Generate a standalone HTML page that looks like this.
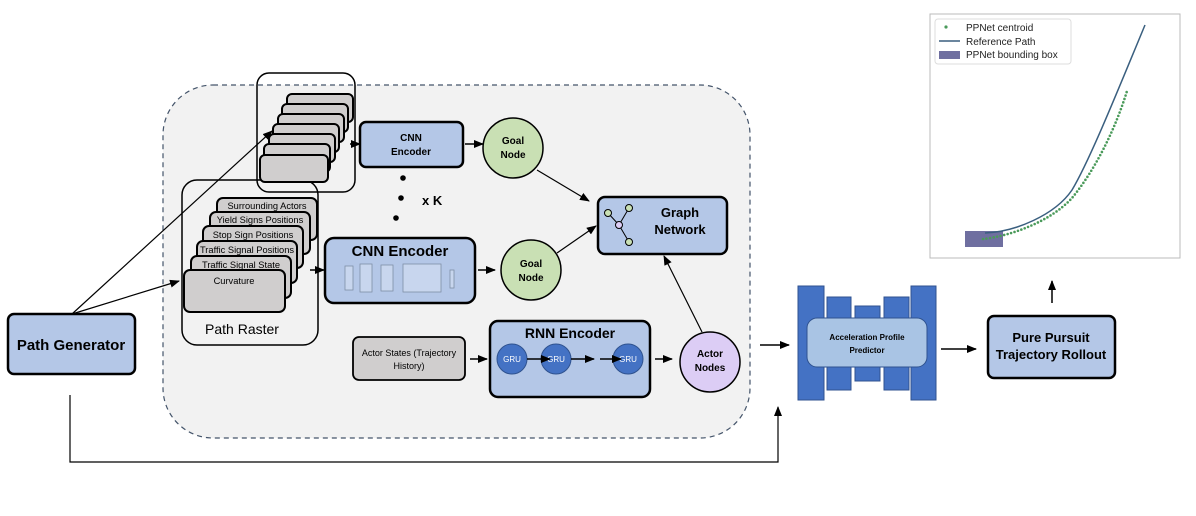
<!DOCTYPE html>
<html><head><meta charset="utf-8"><style>
html,body{margin:0;padding:0;background:#fff;}
svg{display:block;font-family:"Liberation Sans",sans-serif;}
.b{font-weight:bold;}
</style></head><body>
<svg width="1196" height="516" viewBox="0 0 1196 516" xmlns="http://www.w3.org/2000/svg">
<defs>
<marker id="ar" markerWidth="10" markerHeight="8" refX="9" refY="4" orient="auto" markerUnits="userSpaceOnUse"><path d="M0,0 L10,4 L0,8 z" fill="#000"/></marker>
</defs>
<rect x="163" y="85" width="587" height="353" rx="50" fill="#f2f2f2" stroke="#44546a" stroke-width="1.2" stroke-dasharray="5,4"/>

<rect x="8" y="314" width="127" height="60" rx="6" fill="#b4c7e7" stroke="#000" stroke-width="2.5"/>
<text x="71" y="350" text-anchor="middle" font-size="15" class="b">Path Generator</text>

<polyline points="70,395 70,462 778,462 778,407" fill="none" stroke="#000" stroke-width="1.2" marker-end="url(#ar)"/>

<rect x="182" y="180" width="136" height="165" rx="15" fill="none" stroke="#000" stroke-width="1.5"/>
<g stroke="#000" stroke-width="2" fill="#d0cece" font-size="9.3" text-anchor="middle">
<rect x="217" y="198" width="100" height="42" rx="6"/><text x="267" y="209" stroke="none" fill="#000">Surrounding Actors</text>
<rect x="210" y="212" width="100" height="42" rx="6"/><text x="260" y="223" stroke="none" fill="#000">Yield Signs Positions</text>
<rect x="203" y="226" width="100" height="42" rx="6"/><text x="253" y="238" stroke="none" fill="#000">Stop Sign Positions</text>
<rect x="197" y="241" width="100" height="42" rx="6"/><text x="247" y="253" stroke="none" fill="#000">Traffic Signal Positions</text>
<rect x="191" y="256" width="100" height="42" rx="6"/><text x="241" y="268" stroke="none" fill="#000">Traffic Signal State</text>
<rect x="184" y="270" width="101" height="42" rx="6"/><text x="234" y="284" stroke="none" fill="#000">Curvature</text>
</g>
<text x="242" y="334" text-anchor="middle" font-size="14">Path Raster</text>

<rect x="257" y="73" width="98" height="119" rx="12" fill="none" stroke="#000" stroke-width="1.5"/>
<g stroke="#000" stroke-width="2" fill="#d0cece">
<rect x="287" y="94" width="66" height="28" rx="5"/>
<rect x="282" y="104" width="66" height="28" rx="5"/>
<rect x="278" y="114" width="66" height="28" rx="5"/>
<rect x="273" y="124" width="66" height="28" rx="5"/>
<rect x="269" y="134" width="66" height="28" rx="5"/>
<rect x="264" y="144" width="66" height="28" rx="5"/>
<rect x="260" y="155" width="68" height="27" rx="5"/>
</g>

<line x1="72" y1="314" x2="272" y2="131" stroke="#000" stroke-width="1.2" marker-end="url(#ar)"/>
<line x1="72" y1="314" x2="179" y2="281" stroke="#000" stroke-width="1.2" marker-end="url(#ar)"/>

<line x1="350" y1="144" x2="360" y2="144" stroke="#000" stroke-width="1.5" marker-end="url(#ar)"/>
<rect x="360" y="122" width="103" height="45" rx="6" fill="#b4c7e7" stroke="#000" stroke-width="2.5"/>
<text x="411" y="141" text-anchor="middle" font-size="10" class="b">CNN</text>
<text x="411" y="155" text-anchor="middle" font-size="10" class="b">Encoder</text>
<line x1="465" y1="144" x2="483" y2="144" stroke="#000" stroke-width="1.5" marker-end="url(#ar)"/>
<circle cx="513" cy="148" r="30" fill="#c9e0b4" stroke="#000" stroke-width="1.5"/>
<text x="513" y="144" text-anchor="middle" font-size="10" class="b">Goal</text>
<text x="513" y="158" text-anchor="middle" font-size="10" class="b">Node</text>

<circle cx="403" cy="178" r="2.8"/><circle cx="401" cy="198" r="2.8"/><circle cx="396" cy="218" r="2.8"/>
<text x="422" y="205" font-size="13" class="b">x K</text>

<line x1="310" y1="270" x2="324" y2="270" stroke="#000" stroke-width="1.5" marker-end="url(#ar)"/>
<rect x="325" y="238" width="150" height="65" rx="9" fill="#b4c7e7" stroke="#000" stroke-width="2.5"/>
<text x="400" y="256" text-anchor="middle" font-size="15" class="b">CNN Encoder</text>
<g fill="#c8d6ee" stroke="#7f8fa6" stroke-width="0.8">
<rect x="345" y="266" width="8" height="24"/>
<rect x="360" y="264" width="12" height="28"/>
<rect x="381" y="265" width="12" height="26"/>
<rect x="403" y="264" width="38" height="28"/>
<rect x="450" y="270" width="4" height="18"/>
</g>
<line x1="478" y1="270" x2="495" y2="270" stroke="#000" stroke-width="1.5" marker-end="url(#ar)"/>
<circle cx="531" cy="270" r="30" fill="#c9e0b4" stroke="#000" stroke-width="1.5"/>
<text x="531" y="267" text-anchor="middle" font-size="10" class="b">Goal</text>
<text x="531" y="281" text-anchor="middle" font-size="10" class="b">Node</text>

<line x1="537" y1="170" x2="589" y2="201" stroke="#000" stroke-width="1.2" marker-end="url(#ar)"/>
<line x1="557" y1="253" x2="596" y2="226" stroke="#000" stroke-width="1.2" marker-end="url(#ar)"/>
<line x1="702" y1="332" x2="664" y2="256" stroke="#000" stroke-width="1.2" marker-end="url(#ar)"/>
<rect x="598" y="197" width="129" height="57" rx="7" fill="#b4c7e7" stroke="#000" stroke-width="2.5"/>
<g stroke="#000" stroke-width="1">
<line x1="608" y1="213" x2="619" y2="225"/><line x1="629" y1="208" x2="619" y2="225"/><line x1="619" y1="225" x2="629" y2="242"/>
<circle cx="608" cy="213" r="3.5" fill="#c9e0b4"/><circle cx="629" cy="208" r="3.5" fill="#c9e0b4"/>
<circle cx="619" cy="225" r="3.5" fill="#dccdf5"/><circle cx="629" cy="242" r="3.5" fill="#c9e0b4"/>
</g>
<text x="680" y="217" text-anchor="middle" font-size="13" class="b">Graph</text>
<text x="680" y="234" text-anchor="middle" font-size="13" class="b">Network</text>

<rect x="353" y="337" width="112" height="43" rx="6" fill="#d0cece" stroke="#000" stroke-width="1.8"/>
<text x="409" y="356" text-anchor="middle" font-size="9">Actor States (Trajectory</text>
<text x="409" y="369" text-anchor="middle" font-size="9">History)</text>
<line x1="470" y1="359" x2="487" y2="359" stroke="#000" stroke-width="1.5" marker-end="url(#ar)"/>
<rect x="490" y="321" width="160" height="76" rx="8" fill="#b4c7e7" stroke="#000" stroke-width="2.5"/>
<text x="570" y="338" text-anchor="middle" font-size="14" class="b">RNN Encoder</text>
<g fill="#4472c4" stroke="#2f528f" stroke-width="1">
<circle cx="512" cy="359" r="15"/><circle cx="556" cy="359" r="15"/><circle cx="628" cy="359" r="15"/>
</g>
<g fill="#fff" font-size="8" text-anchor="middle"><text x="512" y="362">GRU</text><text x="556" y="362">GRU</text><text x="628" y="362">GRU</text></g>
<line x1="527" y1="359" x2="550" y2="359" stroke="#000" stroke-width="1.5" marker-end="url(#ar)"/>
<line x1="571" y1="359" x2="594" y2="359" stroke="#000" stroke-width="1.5" marker-end="url(#ar)"/>
<line x1="600" y1="359" x2="621" y2="359" stroke="#000" stroke-width="1.5" marker-end="url(#ar)"/>
<line x1="655" y1="359" x2="672" y2="359" stroke="#000" stroke-width="1.5" marker-end="url(#ar)"/>
<circle cx="710" cy="362" r="30" fill="#dccdf5" stroke="#000" stroke-width="1.5"/>
<text x="710" y="357" text-anchor="middle" font-size="10" class="b">Actor</text>
<text x="710" y="371" text-anchor="middle" font-size="10" class="b">Nodes</text>

<line x1="760" y1="345" x2="789" y2="345" stroke="#000" stroke-width="1.5" marker-end="url(#ar)"/>
<g fill="#4472c4" stroke="#2f528f" stroke-width="1">
<rect x="798" y="286" width="26" height="114"/>
<rect x="827" y="297" width="24" height="93"/>
<rect x="855" y="306" width="25" height="75"/>
<rect x="884" y="297" width="25" height="93"/>
<rect x="911" y="286" width="25" height="114"/>
</g>
<rect x="807" y="318" width="120" height="49" rx="10" fill="#a9c4e4" stroke="#2f528f" stroke-width="1"/>
<text x="867" y="340" text-anchor="middle" font-size="8" class="b">Acceleration Profile</text>
<text x="867" y="353" text-anchor="middle" font-size="8" class="b">Predictor</text>
<line x1="941" y1="349" x2="976" y2="349" stroke="#000" stroke-width="1.5" marker-end="url(#ar)"/>

<rect x="988" y="316" width="127" height="62" rx="6" fill="#b4c7e7" stroke="#000" stroke-width="2.5"/>
<text x="1051" y="342" text-anchor="middle" font-size="13" class="b">Pure Pursuit</text>
<text x="1051" y="359" text-anchor="middle" font-size="13" class="b">Trajectory Rollout</text>
<line x1="1052" y1="303" x2="1052" y2="281" stroke="#000" stroke-width="1.5" marker-end="url(#ar)"/>

<rect x="930" y="14" width="250" height="244" fill="#fff" stroke="#bbb" stroke-width="1"/>
<rect x="965" y="231" width="38" height="16" fill="#6f6fa0"/>
<path d="M985,233 C1015,232 1055,215 1072,190 C1090,160 1120,85 1145,25" fill="none" stroke="#3a5f7f" stroke-width="1.5"/>
<path d="M983,239 C1010,236 1050,222 1072,198 C1095,170 1115,130 1127,91" fill="none" stroke="#4a9a5a" stroke-width="2.6" stroke-linecap="round" stroke-dasharray="0 3.6"/>
<rect x="935" y="19" width="136" height="45" rx="3" fill="#fff" stroke="#ddd" stroke-width="1"/>
<circle cx="946" cy="27" r="1.6" fill="#4a9a5a"/>
<line x1="939" y1="41" x2="960" y2="41" stroke="#3a5f7f" stroke-width="1.5"/>
<rect x="939" y="51" width="21" height="8" fill="#6f6fa0"/>
<g font-size="10" fill="#222"><text x="966" y="31">PPNet centroid</text><text x="966" y="45">Reference Path</text><text x="966" y="58">PPNet bounding box</text></g>
</svg>
</body></html>
